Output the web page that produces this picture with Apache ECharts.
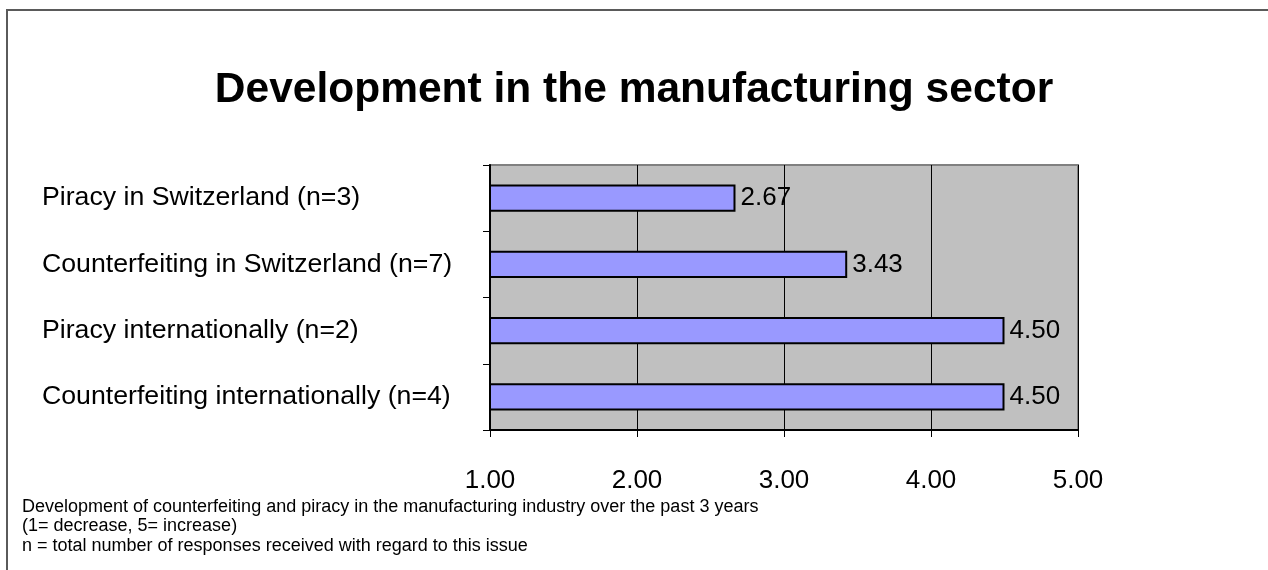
<!DOCTYPE html>
<html>
<head>
<meta charset="utf-8">
<title>Development in the manufacturing sector</title>
<script src="https://cdn.jsdelivr.net/npm/echarts@6/dist/echarts.min.js"></script>
<style>
  html, body { margin: 0; padding: 0; background: #ffffff; }
  #chart { width: 1268px; height: 570px; }
</style>
</head>
<body>
<div id="chart"></div>
<script>
// Survey results: mean rating per issue (1 = decrease, 5 = increase)
const categories = [
  'Piracy in Switzerland (n=3)',
  'Counterfeiting in Switzerland (n=7)',
  'Piracy internationally (n=2)',
  'Counterfeiting internationally (n=4)'
];
const values = [2.67, 3.43, 4.50, 4.50];
const axisTicks = [1, 2, 3, 4, 5];
const titleText = 'Development in the manufacturing sector';
const noteLines = [
  'Development of counterfeiting and piracy in the manufacturing industry over the past 3 years',
  '(1= decrease, 5= increase)',
  'n = total number of responses received with regard to this issue'
];

const FONT = '"Liberation Sans", Arial, sans-serif';
const chart = echarts.init(document.getElementById('chart'), null, { renderer: 'canvas' });

chart.setOption({
  backgroundColor: '#ffffff',
  animation: false,
  title: {
    text: titleText,
    left: 'center',
    top: 64,
    textStyle: { fontFamily: FONT, fontSize: 42.5, fontWeight: 'bold', color: '#000000' }
  },
  grid: {
    left: 490, right: 190, top: 165, bottom: 140,
    show: true,
    backgroundColor: '#C0C0C0',
    borderColor: '#808080',
    borderWidth: 2
  },
  xAxis: {
    type: 'value',
    min: axisTicks[0],
    max: axisTicks[axisTicks.length - 1],
    interval: 1,
    axisLine: { show: true, lineStyle: { color: '#000000', width: 2 } },
    axisTick: { show: true, inside: false, length: 7, lineStyle: { color: '#000000', width: 1 } },
    splitLine: { show: true, lineStyle: { color: '#000000', width: 1 } },
    axisLabel: {
      margin: 38,
      fontFamily: FONT, fontSize: 26, color: '#000000',
      formatter: v => v.toFixed(2)
    }
  },
  yAxis: {
    type: 'category',
    data: categories,
    inverse: true,
    axisLine: { show: true, lineStyle: { color: '#000000', width: 2 } },
    axisTick: { show: true, inside: false, length: 7, lineStyle: { color: '#000000', width: 1 } },
    splitLine: { show: false },
    axisLabel: {
      margin: 448,
      align: 'left',
      fontFamily: FONT, fontSize: 26.7, color: '#000000'
    }
  },
  series: [{
    type: 'bar',
    data: values,
    barCategoryGap: '59%',
    itemStyle: { color: '#9999FF', borderColor: '#000000', borderWidth: 2 },
    label: {
      show: true,
      position: 'right',
      distance: 5,
      fontFamily: FONT, fontSize: 26, color: '#000000',
      formatter: p => p.value.toFixed(2)
    }
  }],
  graphic: [
    {
      type: 'rect',
      shape: { x: 7, y: 10, width: 1400, height: 700 },
      style: { fill: 'none', stroke: '#5a5a5a', lineWidth: 2 },
      silent: true
    },
    {
      type: 'text',
      left: 22,
      top: 497,
      style: {
        text: noteLines.join('\n'),
        font: '18px ' + FONT,
        lineHeight: 19.5,
        fill: '#000000'
      }
    }
  ]
});
</script>
</body>
</html>
